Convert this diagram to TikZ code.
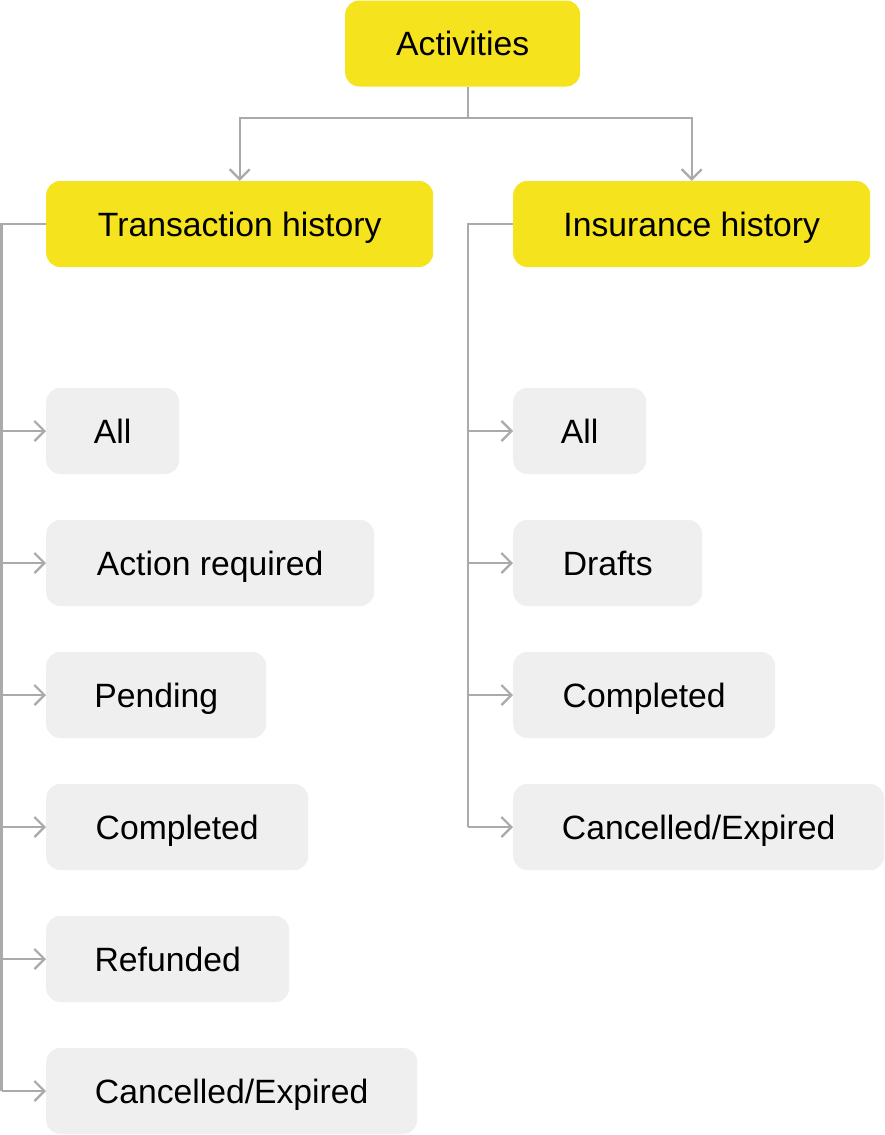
\documentclass[tikz,border=0pt]{standalone}
\usepackage{fontspec}
\setmainfont{Liberation Sans}
\usetikzlibrary{arrows.meta}
\definecolor{ylw}{HTML}{F5E31D}
\definecolor{gbox}{HTML}{EFEFEF}
\definecolor{lin}{HTML}{AAAAAA}
\begin{document}
\begin{tikzpicture}[x=1pt,y=-1pt,
  box/.style={rectangle, rounded corners=14pt, minimum height=86pt, inner sep=0pt, anchor=west, text=black, text height=24pt, text depth=0pt, font=\fontsize{33.7}{40}\selectfont},
  mainbox/.style={box, fill=ylw},
  subbox/.style={box, fill=gbox},
  conn/.style={draw=lin, line width=2.2pt},
  arr/.style={conn, -{Straight Barb[length=10pt,width=20pt,line width=2.2pt]}}]
\useasboundingbox (0,0) rectangle (884,1135);
\fill[white] (0,0) rectangle (884,1135);
% top level
\node[mainbox, minimum width=235pt] (act) at (345,43.5) {Activities};
\node[mainbox, minimum width=387pt] (th) at (46,224) {Transaction history};
\node[mainbox, minimum width=357pt] (ih) at (513,224) {Insurance history};
% transaction children
\node[subbox, minimum width=133pt] (t1) at (46,431) {All};
\node[subbox, minimum width=328pt] (t2) at (46,563) {Action required};
\node[subbox, minimum width=220pt] (t3) at (46,695) {Pending};
\node[subbox, minimum width=262pt] (t4) at (46,827) {Completed};
\node[subbox, minimum width=243pt] (t5) at (46,959) {Refunded};
\node[subbox, minimum width=371pt] (t6) at (46,1091) {Cancelled/Expired};
% insurance children
\node[subbox, minimum width=133pt] (i1) at (513,431) {All};
\node[subbox, minimum width=189pt] (i2) at (513,563) {Drafts};
\node[subbox, minimum width=262pt] (i3) at (513,695) {Completed};
\node[subbox, minimum width=371pt] (i4) at (513,827) {Cancelled/Expired};
% top connectors
\coordinate (split) at (468,118);
\draw[conn] (split |- act.south) -- (split);
\draw[arr] (split) -| (th.north);
\draw[arr] (split) -| (ih.north);
% left trunk
\coordinate (tl) at (1.5,224);
\draw[conn] (th.west) -- (tl) -- (tl |- t6.west);
\foreach \n in {t1,t2,t3,t4,t5,t6}{
  \draw[arr] (tl |- \n.west) -- (\n.west);
}
% right trunk
\coordinate (tr) at (468,224);
\draw[conn] (ih.west) -- (tr) -- (tr |- i4.west);
\foreach \n in {i1,i2,i3,i4}{
  \draw[arr] (tr |- \n.west) -- (\n.west);
}
\end{tikzpicture}
\end{document}
